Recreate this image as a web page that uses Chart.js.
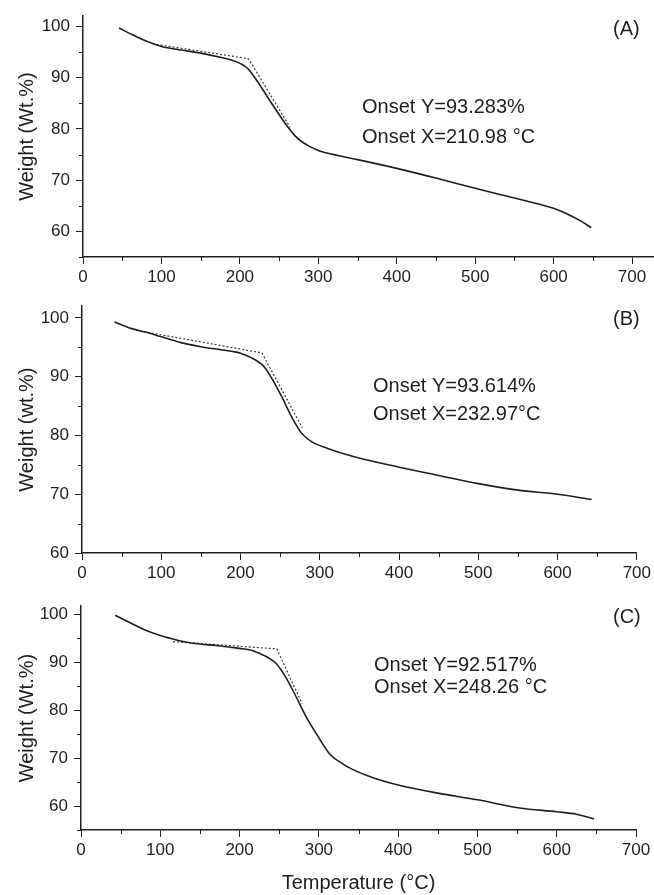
<!DOCTYPE html>
<html>
<head>
<meta charset="utf-8">
<script src="https://cdn.jsdelivr.net/npm/chart.js@4.4.1/dist/chart.umd.min.js"></script>
<style>
  body { margin: 0; background: #fff; width: 654px; height: 895px; overflow: hidden; }
  canvas { position: absolute; left: 0; }
</style>
</head>
<body>
<canvas id="chartA" width="654" height="290" style="top:0px"></canvas>
<canvas id="chartB" width="654" height="300" style="top:290px"></canvas>
<canvas id="chartC" width="654" height="305" style="top:590px"></canvas>
<script>
// TGA curves
const tempA = [46, 60, 75, 90, 100, 125, 150, 175, 190, 200, 210, 220, 230, 240, 250, 260, 270, 280, 290, 300, 325, 350, 400, 450, 500, 550, 600, 620, 635, 648];
const weightA = [99.7, 98.6, 97.5, 96.6, 96.1, 95.4, 94.8, 94.0, 93.4, 92.8, 91.8, 89.8, 87.5, 85.1, 82.8, 80.6, 78.7, 77.4, 76.5, 75.8, 74.8, 74.0, 72.3, 70.4, 68.4, 66.5, 64.5, 63.2, 62.0, 60.7];
const onsetTempA = [89, 211, 264];
const onsetWeightA = [96.6, 93.7, 80.3];

const tempB = [41, 60, 80, 100, 125, 150, 175, 190, 200, 214, 225, 231, 240, 252, 264, 277, 290, 310, 340, 400, 450, 500, 550, 600, 643];
const weightB = [99.3, 98.3, 97.6, 96.8, 95.8, 95.1, 94.6, 94.3, 94.0, 93.2, 92.3, 91.5, 89.6, 86.6, 83.3, 80.4, 78.9, 77.8, 76.5, 74.6, 73.2, 71.8, 70.7, 70.0, 69.1];
const onsetTempB = [68, 227, 278];
const onsetWeightB = [97.9, 94.05, 81.3];

const tempC = [43, 60, 80, 100, 115, 130, 150, 170, 200, 215, 226, 237, 247, 257, 268, 284, 301, 314, 330, 343, 370, 400, 450, 500, 553, 600, 625, 647];
const weightC = [99.8, 98.4, 96.8, 95.6, 94.9, 94.3, 93.8, 93.5, 92.9, 92.5, 91.8, 90.9, 89.6, 87.2, 83.9, 78.6, 74.0, 70.8, 68.8, 67.6, 65.8, 64.4, 62.7, 61.3, 59.6, 58.8, 58.3, 57.3];
const onsetTempC = [116, 247, 279];
const onsetWeightC = [94.3, 92.8, 81.3];

const xTicks = [0, 100, 200, 300, 400, 500, 600, 700];
const xMinorTicks = [50, 150, 250, 350, 450, 550, 650];
const yTicks = [60, 70, 80, 90, 100];
const yMinorTicksAC = [55, 65, 75, 85, 95];
const yMinorTicksB = [65, 75, 85, 95];

const panelLabels = ['(A)', '(B)', '(C)'];
const onsetYText = ['Onset Y=93.283%', 'Onset Y=93.614%', 'Onset Y=92.517%'];
const onsetXText = ['Onset X=210.98 °C', 'Onset X=232.97°C', 'Onset X=248.26 °C'];
const yTitles = ['Weight (Wt.%)', 'Weight (wt.%)', 'Weight (Wt.%)'];
const xTitle = 'Temperature (°C)';

const ink = '#1e1e1e';
const family = '"Liberation Sans", Arial, sans-serif';

const toPoints = (xs, ys) => xs.map((x, i) => ({ x, y: ys[i] }));

const annotate = {
  id: 'annotate',
  afterDraw(chart, args, o) {
    const { ctx } = chart;
    const { x, y } = chart.scales;
    ctx.save();
    ctx.strokeStyle = ink;
    ctx.lineWidth = 1;
    ctx.beginPath();
    o.xMinor.forEach(v => {
      const px = Math.round(x.getPixelForValue(v)) + 0.5;
      ctx.moveTo(px, x.top);
      ctx.lineTo(px, x.top + 4);
    });
    o.yMinor.forEach(v => {
      const py = Math.round(y.getPixelForValue(v)) + 0.5;
      ctx.moveTo(y.right - 4, py);
      ctx.lineTo(y.right, py);
    });
    ctx.stroke();

    ctx.fillStyle = ink;
    ctx.font = '20px ' + family;
    ctx.textAlign = 'left';
    ctx.textBaseline = 'middle';
    ctx.fillText(o.lines[0], o.textX, o.line1Y);
    ctx.fillText(o.lines[1], o.textX, o.line2Y);
    ctx.fillText(o.label, o.labelX, o.labelY);
    ctx.restore();
  }
};

const makePanel = (id, p) => {
  const config = {
    type: 'scatter',
    data: {
      datasets: [{
        data: toPoints(p.temp, p.weight),
        showLine: true,
        borderColor: ink,
        borderWidth: 1.6,
        pointRadius: 0,
        cubicInterpolationMode: 'monotone'
      }, {
        data: toPoints(p.onsetTemp, p.onsetWeight),
        showLine: true,
        borderColor: '#3a3a3a',
        borderWidth: 1.2,
        borderDash: [2, 2],
        pointRadius: 0,
        tension: 0
      }]
    },
    options: {
      responsive: false,
      animation: false,
      layout: { padding: { top: p.top, right: p.right, left: 0, bottom: 0 } },
      plugins: {
        legend: { display: false },
        tooltip: { enabled: false },
        annotate: {
          xMinor: xMinorTicks, yMinor: p.yMinor,
          lines: p.lines, label: p.label,
          textX: p.textX, line1Y: p.line1Y, line2Y: p.line2Y,
          labelX: 613, labelY: p.labelY
        }
      },
      scales: {
        x: {
          type: 'linear',
          min: 0,
          max: p.xMax,
          afterBuildTicks: s => { s.ticks = xTicks.map(v => ({ value: v })); },
          afterFit: s => { s.height = p.xHeight; },
          grid: { drawOnChartArea: false, tickLength: 7, color: ink, lineWidth: 1 },
          border: { color: ink, width: 1.5 },
          ticks: { color: ink, font: { size: 17, family }, padding: 3, maxRotation: 0, autoSkip: false },
          title: {
            display: !!p.xTitle,
            text: p.xTitle || '',
            color: ink,
            font: { size: 20, family },
            padding: { top: 0, bottom: 0 }
          }
        },
        y: {
          min: p.yMin,
          max: p.yMax,
          afterBuildTicks: s => { s.ticks = yTicks.map(v => ({ value: v })); },
          afterFit: s => { s.width = p.left; },
          grid: { drawOnChartArea: false, tickLength: 7, color: ink, lineWidth: 1 },
          border: { color: ink, width: 1.5 },
          ticks: { color: ink, font: { size: 17, family }, padding: 6, autoSkip: false },
          title: {
            display: true,
            text: p.yTitle,
            color: ink,
            font: { size: 20, family },
            padding: { top: 15, bottom: 0 }
          }
        }
      }
    },
    plugins: [annotate]
  };
  return new Chart(document.getElementById(id), config);
};

makePanel('chartA', {
  temp: tempA, weight: weightA, onsetTemp: onsetTempA, onsetWeight: onsetWeightA,
  top: 14, right: 0, left: 83, xHeight: 33, xMax: 728, yMin: 55, yMax: 102,
  yMinor: yMinorTicksAC, yTitle: yTitles[0],
  lines: [onsetYText[0], onsetXText[0]], label: panelLabels[0],
  textX: 362, line1Y: 107, line2Y: 137, labelY: 29
});

makePanel('chartB', {
  temp: tempB, weight: weightB, onsetTemp: onsetTempB, onsetWeight: onsetWeightB,
  top: 14, right: 13, left: 82, xHeight: 37, xMax: 700, yMin: 60, yMax: 102,
  yMinor: yMinorTicksB, yTitle: yTitles[1],
  lines: [onsetYText[1], onsetXText[1]], label: panelLabels[1],
  textX: 373, line1Y: 96, line2Y: 124, labelY: 29
});

makePanel('chartC', {
  temp: tempC, weight: weightC, onsetTemp: onsetTempC, onsetWeight: onsetWeightC,
  top: 13, right: 18, left: 81, xHeight: 65, xMax: 700, yMin: 55, yMax: 101.7,
  yMinor: yMinorTicksAC, yTitle: yTitles[2], xTitle: xTitle,
  lines: [onsetYText[2], onsetXText[2]], label: panelLabels[2],
  textX: 374, line1Y: 75, line2Y: 97, labelY: 27
});
</script>
</body>
</html>
